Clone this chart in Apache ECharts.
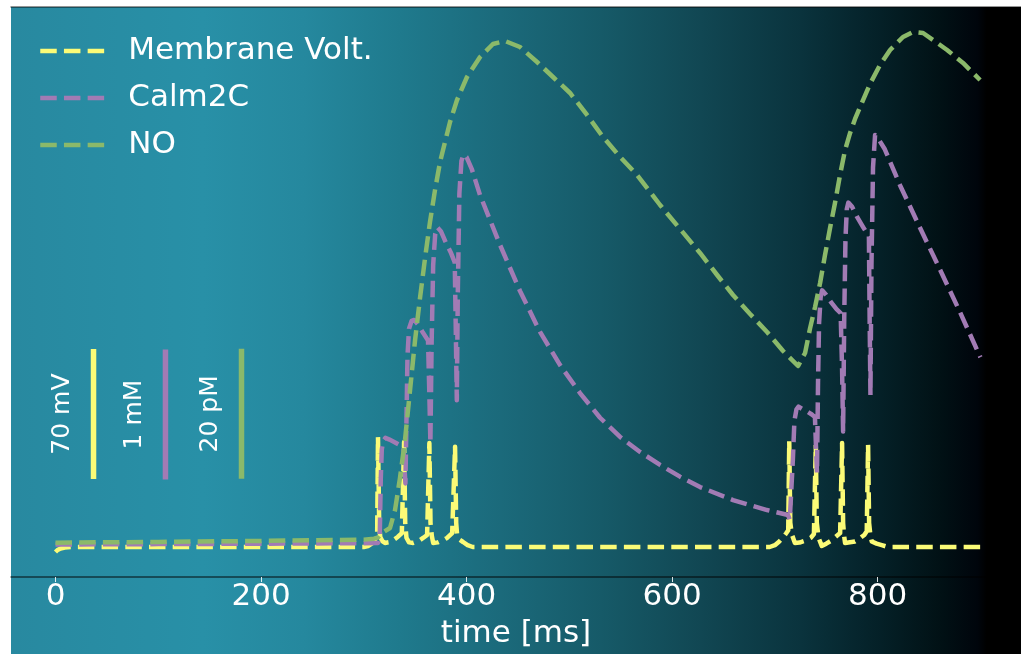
<!DOCTYPE html>
<html>
<head>
<meta charset="utf-8">
<script src="https://cdn.jsdelivr.net/npm/echarts@6/dist/echarts.min.js"></script>
<style>
  html, body { margin: 0; padding: 0; background: #ffffff; }
  #chart { width: 1021px; height: 654px; }
</style>
</head>
<body>
<div id="chart"></div>
<script>
// Simulated traces: time [ms] against each signal in its own unit.
const timeTicks = [0, 200, 400, 600, 800];

// membrane voltage [mV]
const membraneVolt = [
  [0, -72.7], [2, -71.6], [5, -70.8], [9, -70.3], [15, -70], [300, -70],
  [304, -69.5], [308, -68], [311, -66], [313, -63], [313.8, -10.8], [315, -58], [316, -64.6],
  [318, -66.8], [320.6, -67.8], [326, -67.3], [333, -64.6], [337, -62.5],
  [339.2, -13.5], [340.3, -57], [341.5, -65], [344, -67.5], [348, -67.8], [354, -66.5], [358, -65], [361.6, -63.5],
  [363.8, -14], [364.9, -57], [366.2, -64], [367.5, -67.8], [372, -67.5], [377, -66.3], [381, -65.1], [386, -62.5],
  [388.8, -16], [389.9, -57], [390.8, -63.5], [393, -66], [396.6, -67.3], [401, -69], [406, -70],
  [695, -70], [700, -69], [704, -67.2], [708, -64.8], [711, -62.6], [713, -61],
  [714, -13], [715, -57], [716.5, -63.2], [719.5, -67.8], [724, -67.6], [730, -66.5], [735, -65], [738, -63],
  [739.8, -15], [740.8, -57], [742.5, -65], [745.6, -69.4], [750, -68.2], [755, -66.5], [758.5, -64.8], [763.5, -62.5],
  [765.4, -14], [766.4, -57], [767.4, -64], [768.3, -67.8], [773, -67.4], [778, -67], [783, -65.2], [787, -63.5], [789.4, -61.5],
  [790.7, -15], [791.7, -57], [793, -64], [794.3, -67], [799, -68.2], [804, -69], [810, -70], [900, -70]
];

// Calm2C concentration [mM]
const calm2c = [
  [0, 0.25], [100, 0.253], [200, 0.256], [300, 0.26], [313.8, 0.262],
  [315.5, 0.3], [316.5, 0.75], [317.5, 0.98], [319, 1.05], [321, 1.07], [325, 1.057], [330, 1.037], [335, 1.015], [338.5, 1.0],
  [339.5, 0.85], [340.5, 0.72], [341.5, 1.2], [342.5, 1.7], [344, 1.91], [346.5, 1.97], [349, 1.977], [353, 1.94], [357.5, 1.88], [362.5, 1.82],
  [363.8, 1.4], [364.8, 1.03], [366, 1.8], [367.5, 2.4], [369.5, 2.64], [371.5, 2.69], [375, 2.66], [380, 2.57], [385, 2.49], [388.5, 2.42],
  [389.5, 1.9], [390.5, 1.36], [391.5, 2.2], [393, 2.95], [395, 3.2], [397, 3.25], [400, 3.23], [405, 3.14],
  [413.1, 2.938], [432.6, 2.554], [452, 2.2], [471.5, 1.885], [491, 1.63], [510.4, 1.415], [529.9, 1.225],
  [549.4, 1.077], [568.8, 0.962], [588.3, 0.862], [607.7, 0.772], [627.2, 0.692], [659.3, 0.592], [692.4, 0.515], [712.8, 0.477],
  [714.5, 0.44], [716, 0.45], [717.5, 0.9], [719, 1.2], [721, 1.29], [723, 1.31], [727, 1.29], [732, 1.27], [736, 1.25], [739, 1.23],
  [740, 1.0], [741, 0.8], [742, 1.5], [743, 1.95], [744.5, 2.15], [746, 2.205], [750, 2.17], [755, 2.11], [760, 2.06], [764, 2.03],
  [765.4, 1.6], [766.4, 1.12], [767.5, 2.0], [768.7, 2.6], [770, 2.83], [771.5, 2.88], [775, 2.85], [780, 2.77], [786, 2.69], [791.5, 2.62],
  [792.2, 2.0], [793, 1.4], [794, 2.4], [795.5, 3.15], [797.5, 3.4], [800, 3.38], [807, 3.29], [822, 3.01], [841, 2.69],
  [861, 2.36], [880, 2.04], [900, 1.69]
];

// nitric oxide concentration [pM]
const nitricOxide = [
  [0, 5.28], [100, 5.4], [200, 5.55], [300, 5.75], [310, 5.9], [314, 6.1], [317.7, 6.77], [325.5, 7.54],
  [330.4, 10.31], [335.2, 15.23], [340.1, 21.08], [345, 28.77], [349.9, 36.46], [354.7, 42.92], [359.6, 49.08],
  [364.4, 54.62], [369.3, 59.54], [374.2, 63.85], [379, 66.92], [383.9, 70], [390.7, 73.38], [400.4, 76.92],
  [413.1, 80], [425.7, 82], [437.4, 82.46], [452, 81.54], [468.6, 79.23], [484.1, 76.92], [500.7, 74.46],
  [517.2, 71.08], [532.8, 67.69], [549.4, 64.62], [565.9, 61.85], [588.3, 57.23], [607.7, 53.54], [627.2, 49.85],
  [643.8, 46.46], [659.3, 43.38], [675.9, 40.46], [692.4, 37.69], [708, 34.77], [722.6, 32.46],
  [729.4, 34.46], [734.3, 38.31], [739.1, 41.54], [744, 45.23], [748.8, 49.54], [753.7, 53.69], [758.5, 57.54],
  [763.4, 61.85], [768.3, 65.69], [773.2, 68.31], [778, 70.46], [785.8, 73.38], [792.6, 75.85], [802.3, 78.77],
  [812.1, 81.08], [824.7, 83.08], [834.5, 83.85], [844.2, 83.69], [853.9, 82.62], [867.6, 81.08], [883.1, 79.08], [899.7, 76.46]
];

// scale bars: time of each bar, its extent in the trace's own unit, and its label
const scaleBarTimes = [37, 107, 181];
const scaleBarRanges = [[-33.4, 36.6], [0.75, 1.75], [15.1, 35.1]];
const scaleBarLabels = ['70 mV', '1 mM', '20 pM'];

const seriesNames = ['Membrane Volt.', 'Calm2C', 'NO'];
const seriesData = [membraneVolt, calm2c, nitricOxide];
const colors = ['#fbfb77', '#a27bb4', '#8bb96a'];
const DASH = [16.5, 7.2];

const FONT = 'DejaVu Sans';
const chart = echarts.init(document.getElementById('chart'), null, { renderer: 'canvas' });

const yAxes = [
  { min: -86.15, max: 220.77 },  // mV
  { min: 0, max: 4.3846 },       // mM
  { min: 0, max: 87.69 }         // pM
].map(r => Object.assign({ type: 'value', show: false, splitLine: { show: false } }, r));

const traceSeries = seriesNames.map((name, i) => ({
  name: name,
  type: 'line',
  yAxisIndex: i,
  data: seriesData[i],
  showSymbol: false,
  symbol: 'none',
  silent: true,
  z: 3 + i,
  lineStyle: { color: colors[i], width: 4.5, type: DASH, join: 'round', cap: 'butt' },
  itemStyle: { color: colors[i] }
}));

const barSeries = scaleBarTimes.map((t, i) => ({
  name: scaleBarLabels[i],
  type: 'line',
  yAxisIndex: i,
  data: [[t, scaleBarRanges[i][0]], [t, scaleBarRanges[i][1]]],
  showSymbol: false,
  symbol: 'none',
  silent: true,
  z: 2,
  lineStyle: { color: colors[i], width: 5.5, type: 'solid' }
}));

chart.setOption({
  animation: false,
  grid: { left: 11, right: 0, top: 7, bottom: 77 },
  xAxis: [
    {
      type: 'value', min: -43.3, max: 939.5,
      axisLine: { show: true, onZero: false, lineStyle: { color: 'rgba(0,0,0,0.62)', width: 1.5 } },
      axisTick: { show: true, length: 5, customValues: timeTicks, lineStyle: { color: 'rgba(255,255,255,0.85)', width: 1 } },
      axisLabel: { customValues: timeTicks, color: '#ffffff', fontSize: 31, fontFamily: FONT, margin: 4 },
      splitLine: { show: false },
      name: 'time [ms]', nameLocation: 'middle', nameGap: 41,
      nameTextStyle: { color: '#ffffff', fontSize: 31, fontFamily: FONT }
    },
    {
      type: 'value', position: 'top', min: -43.3, max: 939.5,
      axisLine: { show: true, onZero: false, lineStyle: { color: 'rgba(0,0,0,0.55)', width: 1.5 } },
      axisTick: { show: false }, axisLabel: { show: false }, splitLine: { show: false }
    }
  ],
  yAxis: yAxes,
  legend: {
    data: seriesNames,
    orient: 'vertical',
    left: 33, top: 29,
    itemWidth: 64, itemHeight: 20, itemGap: 13,
    selectedMode: false,
    itemStyle: { color: 'transparent', borderWidth: 0, opacity: 0 },
    lineStyle: { width: 4.5, type: DASH, cap: 'butt' },
    textStyle: { color: '#ffffff', fontSize: 31, fontFamily: FONT, lineHeight: 34, padding: [0, 0, 0, 19] }
  },
  series: barSeries.concat(traceSeries)
});

// background band behind the plot and the scale-bar captions
const bg = new echarts.graphic.LinearGradient(0, 0, 1, 0, [
  { offset: 0.0, color: 'rgb(40,137,160)' },
  { offset: 0.19, color: 'rgb(40,144,167)' },
  { offset: 0.29, color: 'rgb(37,136,158)' },
  { offset: 0.385, color: 'rgb(31,122,141)' },
  { offset: 0.485, color: 'rgb(27,106,123)' },
  { offset: 0.584, color: 'rgb(22,90,104)' },
  { offset: 0.683, color: 'rgb(17,71,83)' },
  { offset: 0.782, color: 'rgb(10,51,61)' },
  { offset: 0.861, color: 'rgb(4,32,39)' },
  { offset: 0.92, color: 'rgb(1,17,21)' },
  { offset: 0.957, color: 'rgb(0,5,12)' },
  { offset: 0.966, color: 'rgb(0,0,0)' },
  { offset: 1.0, color: 'rgb(0,0,0)' }
]);

const graphics = [{
  type: 'rect', z: -10, silent: true,
  shape: { x: 11, y: 7, width: 1010, height: 647 },
  style: { fill: bg }
}];

scaleBarTimes.forEach((t, i) => {
  const mid = (scaleBarRanges[i][0] + scaleBarRanges[i][1]) / 2;
  const p = chart.convertToPixel({ xAxisIndex: 0, yAxisIndex: i }, [t, mid]);
  graphics.push({
    type: 'text', silent: true, z: 5,
    x: p[0] - 31, y: p[1], rotation: Math.PI / 2,
    style: { text: scaleBarLabels[i], fill: '#ffffff', font: '25px "DejaVu Sans"', align: 'center', verticalAlign: 'middle' }
  });
});

chart.setOption({ graphic: graphics });
</script>
</body>
</html>
